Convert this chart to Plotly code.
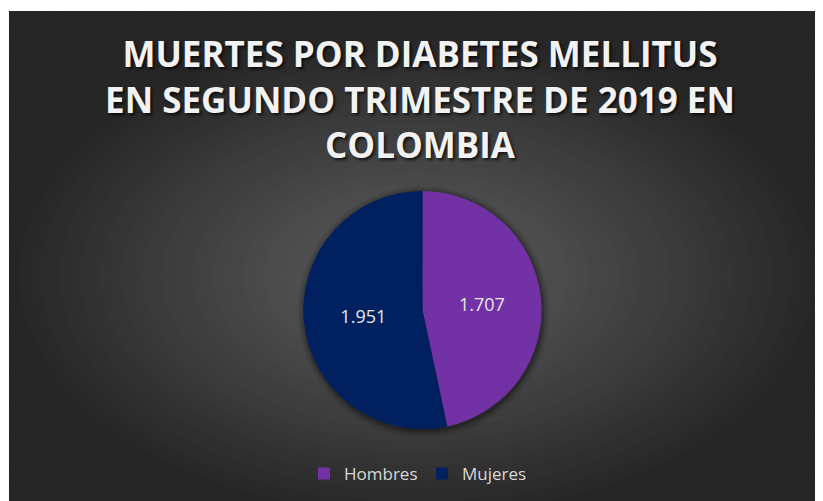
import plotly.graph_objects as go

# page has an 8px body margin: figure pixel = screen pixel - 8
OFF = 8
W, H = 823 - OFF, 501 - OFF

categories = ["Hombres", "Mujeres"]
values = [1707, 1951]
colors = ["#7331a6", "#002060"]
title_lines = ["MUERTES POR DIABETES MELLITUS", "EN SEGUNDO TRIMESTRE DE 2019 EN", "COLOMBIA"]

def px(x):
    return (x - OFF) / W

def py(y):
    return 1 - (y - OFF) / H

# chart area (screen pixels) and background gradient
L, T, R_, B_ = 9, 11, 823, 501
cx, cy = (L + R_) / 2, (T + B_) / 2 + 20
hw, hh = (R_ - L) / 2, (B_ - T) / 2
c_in = (92, 92, 92)
c_out = (38, 38, 38)

shapes = []
N = 60
rmax = 1.5
for i in range(N):
    r = rmax * (1 - i / N)
    t = min(r, 1.0) ** 1.15
    col = tuple(int(round(c_in[k] + (c_out[k] - c_in[k]) * t)) for k in range(3))
    shapes.append(dict(type="circle", xref="paper", yref="paper", layer="below",
                       x0=px(cx - r * hw), x1=px(cx + r * hw),
                       y0=py(cy + r * hh), y1=py(cy - r * hh),
                       fillcolor="rgb(%d,%d,%d)" % col, line=dict(width=0)))
# white margin strips
shapes.append(dict(type="rect", xref="paper", yref="paper", layer="below",
                   x0=-0.1, x1=px(L), y0=-0.1, y1=1.1, fillcolor="white", line=dict(width=0)))
shapes.append(dict(type="rect", xref="paper", yref="paper", layer="below",
                   x0=-0.1, x1=1.1, y0=py(T), y1=1.1, fillcolor="white", line=dict(width=0)))

# pie geometry (screen pixels)
pcx, pcy, pr = 422.5, 310, 119
for dr, a in [(7, 0.06), (5, 0.08), (3, 0.12), (1.5, 0.16)]:
    R = pr + dr
    shapes.append(dict(type="circle", xref="paper", yref="paper", layer="below",
                       x0=px(pcx - R + 1), x1=px(pcx + R + 1),
                       y0=py(pcy + R + 1.5), y1=py(pcy - R + 1.5),
                       fillcolor="rgba(0,0,0,%g)" % a, line=dict(width=0)))

fig = go.Figure()
fig.add_trace(go.Pie(
    labels=categories,
    values=values,
    sort=False,
    direction="clockwise",
    rotation=0,
    marker=dict(colors=colors, line=dict(width=0)),
    texttemplate="%{value:,}",
    textposition="inside",
    insidetextorientation="horizontal",
    textfont=dict(family="Open Sans", size=18, color="#e6e6e6"),
    hoverinfo="label+value",
    domain=dict(x=[px(pcx - pr), px(pcx + pr)], y=[py(pcy + pr), py(pcy - pr)]),
))

fig.update_layout(
    width=W, height=H,
    margin=dict(l=0, r=0, t=0, b=0),
    paper_bgcolor="white",
    separators=",.",
    shapes=shapes,
    title=dict(
        text="<br>".join(title_lines),
        x=px(420), xanchor="center", xref="paper",
        y=py(67), yanchor="top", yref="paper",
        font=dict(family="Open Sans", size=35, color="#f2f2f2", weight="bold",
                  shadow="2px 2px 3px rgba(0,0,0,0.7)"),
    ),
    legend=dict(
        orientation="h", x=px(422), xanchor="center", y=py(474), yanchor="middle",
        font=dict(family="Open Sans", size=17, color="#d9d9d9"),
        bgcolor="rgba(0,0,0,0)", itemclick=False,
        entrywidth=73, entrywidthmode="pixels",
    ),
    showlegend=True,
)

fig.write_html("out.html")
